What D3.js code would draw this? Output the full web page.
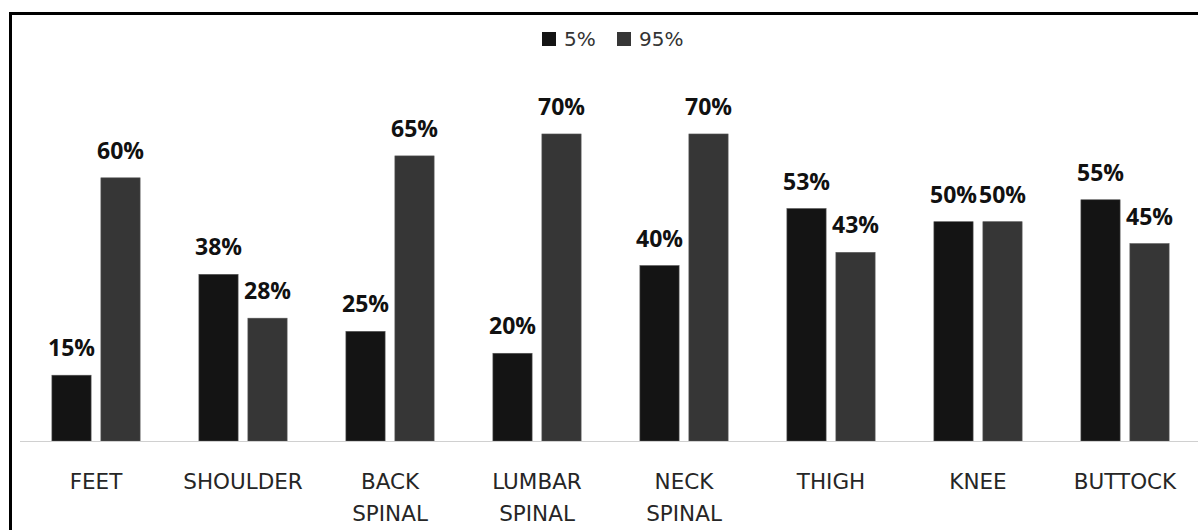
<!DOCTYPE html>
<html>
<head>
<meta charset="utf-8">
<script src="https://cdn.jsdelivr.net/npm/d3@7"></script>
<style>
  html, body { margin: 0; padding: 0; background: #fff; }
  svg { display: block; }
</style>
</head>
<body>
<svg id="chart" width="1198" height="530"></svg>
<script>
// Body regions and the two percentile groups
const categories = ["FEET", "SHOULDER", "BACK SPINAL", "LUMBAR SPINAL", "NECK SPINAL", "THIGH", "KNEE", "BUTTOCK"];
const seriesNames = ["5%", "95%"];
const values5 = [15, 38, 25, 20, 40, 53, 50, 55];
const values95 = [60, 28, 65, 70, 70, 43, 50, 45];
const seriesColors = ["#141414", "#363636"];

const seriesValues = [values5, values95];
const rows = categories.map((c, i) => ({
  category: c,
  bars: seriesNames.map((s, k) => ({ series: s, value: seriesValues[k][i], color: seriesColors[k] }))
}));

const svg = d3.select("#chart");
const baseY = 441;

// Outer frame
svg.append("rect")
  .attr("x", 10.5).attr("y", 13.5)
  .attr("width", 1300).attr("height", 600)
  .attr("fill", "none").attr("stroke", "#000").attr("stroke-width", 3);

const x = d3.scaleBand()
  .domain(categories)
  .range([22.5, 1198.5])
  .paddingInner(0.4)
  .paddingOuter(0.2);

const xInner = d3.scaleBand()
  .domain(seriesNames)
  .range([0, x.bandwidth()])
  .paddingInner(0.2);

const y = d3.scaleLinear()
  .domain([0, 80])
  .range([baseY, baseY - 0.8 * 438.6]);

// Bars
const groups = svg.append("g").selectAll("g")
  .data(rows)
  .join("g")
  .attr("transform", d => `translate(${x(d.category)},0)`);

groups.selectAll("rect")
  .data(d => d.bars)
  .join("rect")
  .attr("x", d => xInner(d.series))
  .attr("y", d => y(d.value))
  .attr("width", xInner.bandwidth())
  .attr("height", d => y(0) - y(d.value))
  .attr("fill", d => d.color)
  .attr("stroke", "#555")
  .attr("stroke-width", 0.6);

// Value labels
groups.selectAll("text")
  .data(d => d.bars)
  .join("text")
  .attr("x", d => xInner(d.series) + xInner.bandwidth() / 2)
  .attr("y", d => y(d.value) - 19)
  .attr("text-anchor", "middle")
  .attr("font-family", "'Open Sans', sans-serif")
  .attr("font-weight", "bold")
  .attr("font-size", "23px")
  .attr("fill", "#111")
  .text(d => d.value + "%");

// Baseline / category axis
const axis = svg.append("g")
  .attr("transform", `translate(0,${baseY})`)
  .call(d3.axisBottom(x).tickSize(0).tickPadding(0));
axis.select(".domain").remove();
svg.append("line")
  .attr("x1", 20).attr("x2", 1198)
  .attr("y1", baseY + 0.5).attr("y2", baseY + 0.5)
  .attr("stroke", "#d0d0d0").attr("stroke-width", 1.2);

axis.selectAll(".tick text")
  .attr("font-family", "'DejaVu Sans', sans-serif")
  .attr("font-size", "21.5px")
  .attr("fill", "#262626")
  .attr("y", 0)
  .attr("dy", null)
  .each(function(d) {
    const t = d3.select(this);
    const words = d.split(" ");
    t.text(null);
    words.forEach((w, i) => {
      t.append("tspan")
        .attr("x", 0)
        .attr("y", 48 + i * 32)
        .text(w);
    });
  });

// Legend
const legend = svg.append("g");
const legendItems = [
  { name: seriesNames[0], color: seriesColors[0], sx: 542, tx: 564 },
  { name: seriesNames[1], color: seriesColors[1], sx: 617, tx: 639 }
];
legend.selectAll("rect")
  .data(legendItems)
  .join("rect")
  .attr("x", d => d.sx).attr("y", 32)
  .attr("width", 14).attr("height", 14)
  .attr("fill", d => d.color);
legend.selectAll("text")
  .data(legendItems)
  .join("text")
  .attr("x", d => d.tx).attr("y", 46)
  .attr("font-family", "'DejaVu Sans', sans-serif")
  .attr("font-size", "20px")
  .attr("fill", "#333")
  .text(d => d.name);
</script>
</body>
</html>
